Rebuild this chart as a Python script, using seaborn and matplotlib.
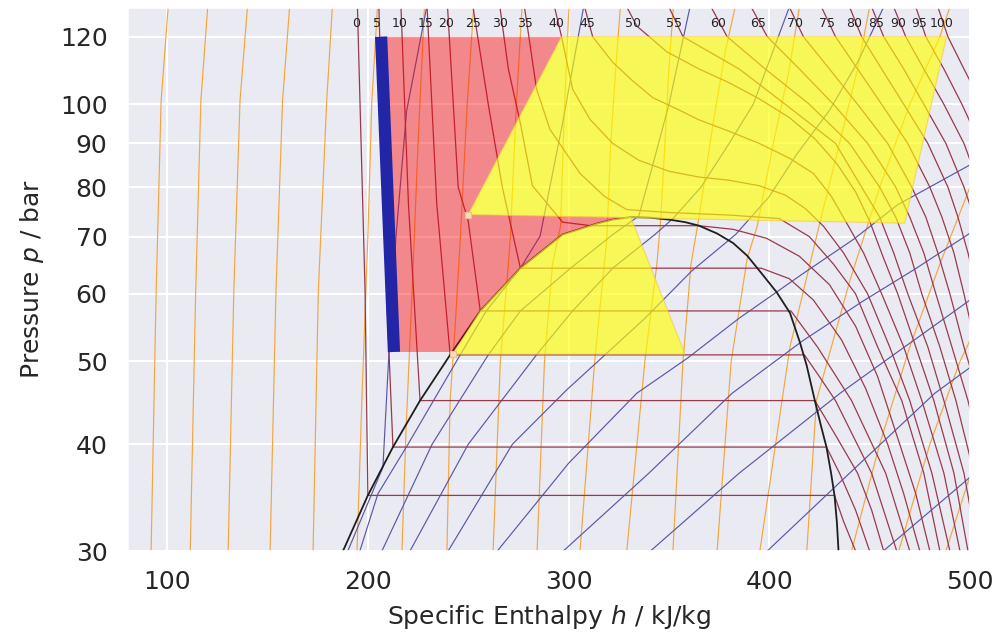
import numpy as np
import pandas as pd
import matplotlib
matplotlib.use("Agg")
import matplotlib.pyplot as plt
from matplotlib.ticker import FixedLocator, FixedFormatter, NullLocator
import seaborn as sns

# ---------------- data ----------------
# saturation dome (h in kJ/kg, p in bar)
DOME_LIQ_H = [187.6, 200.0, 212.5, 226.0, 241.0, 256.0, 276.0, 297.0, 314.0, 322.0, 331.0]
DOME_LIQ_P = [30.0, 34.85, 39.7, 45.0, 50.9, 57.3, 64.3, 70.4, 72.5, 73.3, 73.8]
DOME_VAP_H = [331.0, 340.0, 350.0, 358.0, 365.0, 374.0, 382.0, 389.0, 395.0, 403.6,
              410.3, 415.2, 418.6, 422.7, 425.8, 428.5, 430.8, 432.5, 433.7, 434.5]
DOME_VAP_P = [73.8, 73.7, 73.3, 72.8, 72.1, 70.6, 68.8, 66.5, 63.9, 60.3,
              57.0, 52.7, 49.5, 45.0, 42.0, 39.7, 37.0, 34.85, 32.4, 30.0]

# isotherms (degC)
ISO_T = [0, 5, 10, 15, 20, 25, 30, 35, 40, 45, 50, 55, 60, 65, 70, 75, 80, 85, 90, 95, 100]
T0_H = [194.8, 198.6, 200.0, 432.5, 437.0, 443.0]
T0_P = [130, 60.5, 34.85, 34.85, 32.5, 30]
T5_H = [205.5, 209.4, 212.5, 428.5, 435.0, 443.0, 450.0]
T5_P = [130, 59.3, 39.7, 39.7, 37.0, 33.5, 30]
T10_H = [216.5, 220.2, 226.0, 422.7, 433.0, 444.0, 451.0, 457.0]
T10_P = [130, 76.6, 45.0, 45.0, 41.0, 37.0, 33.5, 30]
T15_H = [229.5, 234.3, 241.0, 417.5, 425.0, 433.0, 451.0, 463.5]
T15_P = [130, 76.6, 50.9, 50.9, 48.0, 45.0, 37.0, 30]
T20_H = [239.7, 245.0, 250.0, 256.0, 410.8, 424.0, 441.0, 458.0, 470.0]
T20_P = [130, 80.0, 73.0, 57.3, 57.3, 52.0, 45.0, 37.0, 30]
T25_H = [252.4, 260.0, 267.0, 276.0, 396.0, 410.0, 422.0, 436.0, 448.0, 459.0, 467.0, 475.0]
T25_P = [130, 100, 80, 64.3, 64.3, 62.5, 59, 53, 46.5, 40, 35, 30]
T30_H = [265.8, 270, 276, 282, 297, 311, 365, 382, 398.6, 415, 430, 443, 454, 465, 473, 480]
T30_P = [130, 110, 95, 80.3, 72.8, 72.1, 72.1, 71.4, 69.7, 66.4, 61.5, 55, 48, 40, 35, 30]
T35_H = [278, 280, 284, 290.7, 305.7, 318, 329, 350, 380, 405, 420, 432, 443, 454, 466, 477, 485]
T35_P = [130, 121, 104.3, 93.5, 83, 78, 75.3, 74.7, 74.2, 73.5, 70, 65, 60, 52, 45, 37, 30]
T40_H = [293, 296.5, 302, 310.7, 322, 335, 350, 365, 380, 395, 408, 418, 427, 437, 449, 460, 470, 481, 490]
T40_P = [130, 120, 104.2, 96, 90, 86, 83.5, 82.2, 81.5, 80.3, 78.3, 75.5, 72, 67, 60, 52, 45, 37, 30]
T45_H = [308, 312, 322, 332, 342, 355, 365, 380, 395, 410, 422, 431, 438, 447, 456, 467, 476, 487, 495]
T45_P = [130, 120, 112, 106.5, 101.8, 98.5, 95.9, 93, 90, 86.5, 83, 78, 73, 67, 60, 52, 45, 37, 30]
T50_H = [329, 334, 349, 365, 380, 395, 410, 423, 434, 443, 450, 457, 464, 473, 482, 492, 499]
T50_P = [130, 123.5, 115.2, 110, 106, 101.5, 96.5, 91, 85, 79, 73, 66, 60, 52, 45, 37, 30]
P_SUP = [130, 120, 110, 100, 90, 80, 73.8, 67, 60, 52, 45, 37, 30]
T55_H = [350, 357, 385, 408, 433, 446, 455, 462, 469, 479, 487, 497, 504]
T60_H = [371, 379, 398, 420, 440, 455, 463, 470, 476, 485, 493, 502, 510]
T65_H = [391, 399, 415, 432, 449, 463, 470, 477, 483, 491, 499, 508]
T70_H = [410, 417, 430, 444, 459, 471, 478, 484, 490, 497, 505]
T75_H = [426, 433, 444, 456, 469, 480, 486, 492, 497, 503, 510]
T80_H = [440, 446, 456, 467, 479, 489, 494, 499, 504, 510]
T85_H = [451, 457, 467, 477, 488, 497, 502, 507, 511]
T90_H = [462, 468, 477, 487, 497, 505, 510]
T95_H = [473, 478, 487, 496, 505, 513]
T100_H = [484, 489, 497, 506, 514]

# isentropes (orange)
S1_H, S1_P = [92.0, 94.5, 97.0, 100.5], [30, 60.3, 101, 130]
S2_H, S2_P = [111.5, 114.2, 116.8, 120.2], [30, 60.3, 101, 130]
S3_H, S3_P = [130.4, 133.2, 136.3, 140.0], [30, 60.3, 101, 130]
S4_H, S4_P = [151.3, 154.2, 157.5, 161.0], [30, 60.3, 101, 130]
S5_H, S5_P = [172.7, 175.3, 179.5, 182.3], [30, 60.3, 101, 130]
S6_H, S6_P = [194.6, 197.0, 200.0, 202.0, 204.8], [30, 45, 70, 101, 130]
S7_H, S7_P = [217.0, 219.0, 222.0, 225.0, 228.2], [30, 41.5, 60, 90, 130]
S8_H, S8_P = [239.4, 241.0, 243.5, 246.0, 249.5, 252.7], [30, 45, 55, 69.3, 100, 130]
S9_H, S9_P = [262.4, 266.0, 270.0, 271.0, 274.0, 276.8], [30, 50, 65, 70, 100, 130]
S10_H, S10_P = [284.3, 288.0, 292.0, 296.0, 298.0, 300.2], [30, 50, 65, 72, 100, 130]
S11_H, S11_P = [305.7, 313.0, 319.0, 321.0, 323.5, 325.8], [30, 50, 69.3, 90, 110, 130]
S12_H, S12_P = [329.0, 338.0, 344.0, 346.0, 348.0, 350.0, 352.2], [30, 50, 65, 73.8, 90, 110, 130]
S13_H, S13_P = [352.0, 357.0, 361.0, 365.0, 372.0, 378.0, 383.0], [30, 50, 65, 73.8, 95, 115, 130]
S14_H, S14_P = [374.0, 381.0, 389.0, 394.0, 402.0, 410.0, 415.0], [30, 50, 66, 72, 90, 110, 130]
S15_H, S15_P = [395.3, 410.3, 425.2, 435.0, 444.0, 450.0], [30, 52, 72.7, 90, 110, 130]
S16_H, S16_P = [418.7, 423.5, 440.0, 455.0, 470.0, 485.0, 490.0], [30, 45, 62, 80, 100, 120, 130]
S17_H, S17_P = [441.0, 455.0, 470.0, 485.0, 500.0, 510.0], [30, 40, 52, 65, 80, 90]
S18_H, S18_P = [464.5, 480.0, 495.0, 505.0], [30, 40, 50, 56]
S19_H, S19_P = [488.0, 502.0], [30, 38]

# isochores (blue)
V0_H, V0_P = [190.0, 207.5, 210.6, 214.0, 219.3, 229.3], [30, 37.6, 51.7, 70, 98.2, 130]
V1_H, V1_P = [196.0, 205.0, 220.0, 246.0, 259.0, 276.0, 285.8, 297.0, 307.5], [30, 35, 40, 50.9, 57.3, 64.3, 70.1, 95, 130]
V2_H, V2_P = [207.0, 232.0, 260.0, 276.0, 301.0, 322.0, 335.0, 342.0, 350.0, 360.5], [30, 40, 50.9, 57.3, 64.3, 70.4, 74, 85, 100, 130]
V3_H, V3_P = [221.0, 250.0, 284.0, 302.0, 322.0, 343.0, 352.0, 366.0, 380.0, 392.0, 410.0], [30, 40, 50.9, 57.3, 64.3, 70.4, 73.5, 80, 90, 100, 130]
V4_H, V4_P = [240.0, 272.0, 299.0, 337.8, 361.3, 383.2, 400.0, 413.5, 430.0, 444.0, 457.0], [30, 40, 46.3, 56.1, 63.8, 70.4, 78, 87.3, 98.4, 112, 130]
V5_H, V5_P = [264.5, 300.0, 334.0, 359.5, 384.6, 416.5, 442.0, 464.0, 503.0], [30, 38, 45.9, 50.5, 56.1, 63.3, 69.5, 76.3, 85.7]
V6_H, V6_P = [297.4, 340.0, 381.5, 416.8, 447.0, 472.4, 502.6], [30, 37, 45.9, 52.9, 58.9, 64.1, 71.3]
V7_H, V7_P = [340.8, 385.0, 435.3, 463.9, 502.6], [30, 37, 45.9, 51.3, 59.6]
V8_H, V8_P = [399.0, 440.0, 482.5, 502.6], [30, 37, 45.9, 49.7]
V9_H, V9_P = [456.8, 500.0], [30, 36.6]

# highlighted process regions
PINK_H = [206.6, 296.5, 250.0, 331.0, 322.0, 314.0, 297.0, 276.0, 256.0, 242.5, 213.0]
PINK_P = [120, 120, 74.3, 73.8, 73.3, 72.5, 70.4, 64.3, 57.3, 51.3, 51.3]
YEL_TOP_H = [296.5, 488.3, 467.5, 250.0]
YEL_TOP_P = [120, 120, 72.6, 74.3]
YEL_LOW_H = [242.5, 256.0, 276.0, 297.0, 314.0, 322.0, 331.0, 358.0]
YEL_LOW_P = [51.0, 57.3, 64.3, 70.4, 72.5, 73.3, 73.8, 51.0]
BAR_H = [206.6, 213.0]
BAR_P = [120, 51.3]
MARK_H = [250.0, 242.5]
MARK_P = [74.3, 51.0]

X_TICKS = [100, 200, 300, 400, 500]
Y_TICKS = [30, 40, 50, 60, 70, 80, 90, 100, 120]

# ---------------- assemble ----------------
iso_h = [T0_H, T5_H, T10_H, T15_H, T20_H, T25_H, T30_H, T35_H, T40_H, T45_H, T50_H,
         T55_H, T60_H, T65_H, T70_H, T75_H, T80_H, T85_H, T90_H, T95_H, T100_H]
iso_p = [T0_P, T5_P, T10_P, T15_P, T20_P, T25_P, T30_P, T35_P, T40_P, T45_P, T50_P]
iso_p += [P_SUP[:len(h)] for h in iso_h[11:]]

isen = [(S1_H, S1_P), (S2_H, S2_P), (S3_H, S3_P), (S4_H, S4_P), (S5_H, S5_P), (S6_H, S6_P),
        (S7_H, S7_P), (S8_H, S8_P), (S9_H, S9_P), (S10_H, S10_P), (S11_H, S11_P), (S12_H, S12_P),
        (S13_H, S13_P), (S14_H, S14_P), (S15_H, S15_P), (S16_H, S16_P), (S17_H, S17_P),
        (S18_H, S18_P), (S19_H, S19_P)]
isoc = [(V0_H, V0_P), (V1_H, V1_P), (V2_H, V2_P), (V3_H, V3_P), (V4_H, V4_P), (V5_H, V5_P),
        (V6_H, V6_P), (V7_H, V7_P), (V8_H, V8_P), (V9_H, V9_P)]


def family_frame(pairs):
    rows = []
    for i, (hh, pp) in enumerate(pairs):
        for a, b in zip(hh, pp):
            rows.append((a, b, i))
    return pd.DataFrame(rows, columns=["h", "p", "line"])


df_iso = family_frame(list(zip(iso_h, iso_p)))
df_isen = family_frame(isen)
df_isoc = family_frame(isoc)
df_dome = pd.DataFrame({"h": DOME_LIQ_H + DOME_VAP_H[1:], "p": DOME_LIQ_P + DOME_VAP_P[1:], "line": 0})

# ---------------- plot ----------------
sns.set_theme(style="darkgrid", context="talk")
plt.rcParams["font.family"] = ["DejaVu Sans"]

fig = plt.figure(figsize=(9.97, 6.37), dpi=100)
ax = fig.add_axes([0.1274, 0.135, 0.8455, 0.854])

kw = dict(x="h", y="p", units="line", estimator=None, sort=False, legend=False, ax=ax)
sns.lineplot(data=df_isen, color="#f3a640", linewidth=0.85, zorder=2, **kw)
sns.lineplot(data=df_isoc, color="#5858a8", linewidth=0.85, zorder=2, **kw)
sns.lineplot(data=df_iso, color="#983a4c", linewidth=0.9, zorder=2, **kw)
sns.lineplot(data=df_dome, color="#1e1e1e", linewidth=1.3, zorder=2.5, **kw)

ax.fill(PINK_H, PINK_P, color="#ff0000", alpha=0.42, lw=0, zorder=3)
ax.fill(YEL_TOP_H, YEL_TOP_P, facecolor="#ffff00", alpha=0.64, edgecolor="#f5c542", lw=0.8, zorder=3.1)
ax.fill(YEL_LOW_H, YEL_LOW_P, facecolor="#ffff00", alpha=0.64, edgecolor="#f5c542", lw=0.8, zorder=3.1)
ax.plot(BAR_H, BAR_P, color="#2226a6", lw=8.8, solid_capstyle="butt", zorder=4)
ax.plot(MARK_H, MARK_P, "s", ms=5, color="#f8dcb8", mec="#eebf8c", mew=0.8, zorder=5)

ax.set_yscale("log")
ax.set_xlim(80, 500)
ax.set_ylim(30, 130)

# isotherm labels at the top of the chart
for t, hh, pp in zip(ISO_T, iso_h, iso_p):
    lp = np.log(124.6)
    x = np.interp(lp, [np.log(pp[1]), np.log(pp[0])], [hh[1], hh[0]])
    ax.text(x - 1.0, 124.2, str(t), fontsize=9, ha="center", va="center", color="#222222", zorder=6)

ax.xaxis.set_major_locator(FixedLocator(X_TICKS))
ax.yaxis.set_major_locator(FixedLocator(Y_TICKS))
ax.yaxis.set_major_formatter(FixedFormatter([str(v) for v in Y_TICKS]))
ax.yaxis.set_minor_locator(NullLocator())
ax.tick_params(axis="both", labelsize=18, pad=14, length=0)
ax.set_xlabel("Specific Enthalpy $h$ / kJ/kg", fontsize=18, labelpad=6)
ax.set_ylabel("Pressure $p$ / bar", fontsize=18, labelpad=10)

fig.savefig("out.png", dpi=100)
